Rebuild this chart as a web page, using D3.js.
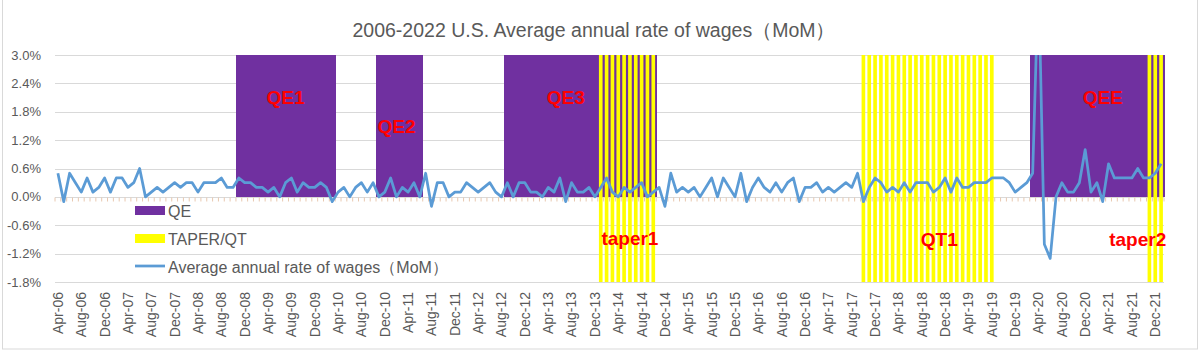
<!DOCTYPE html>
<html>
<head>
<meta charset="utf-8">
<script src="https://cdn.jsdelivr.net/npm/d3@7"></script>
<style>
  html, body { margin: 0; padding: 0; background: #fff; }
  svg { display: block; font-family: "Liberation Sans", Arial, sans-serif; }
</style>
</head>
<body>
<div id="container"></div>
<script>
// monthly wage growth, Apr-06 .. Jan-22 (%)
const wages = [
  0.5, -0.1, 0.5, 0.3, 0.1, 0.4, 0.1, 0.2, 0.4, 0.1, 0.4, 0.4, 0.2, 0.3, 0.6,
  0.0, 0.1, 0.2, 0.1, 0.2, 0.3, 0.2, 0.3, 0.3, 0.1, 0.3, 0.3, 0.3, 0.4, 0.2, 0.2,
  0.4, 0.3, 0.3, 0.2, 0.2, 0.1, 0.2, 0.0, 0.3, 0.4, 0.1, 0.3, 0.2, 0.2, 0.3,
  0.2, -0.1,
  0.1, 0.2, 0.0, 0.2, 0.3, 0.1, 0.3, 0.0, 0.1, 0.4, 0.0, 0.2, 0.1, 0.3, 0.0,
  0.5, -0.2, 0.3, 0.3, 0.0, 0.1, 0.1, 0.3, 0.2, 0.1, 0.2, 0.3, 0.1, 0.0, 0.3,
  0.0, 0.3, 0.3, 0.1, 0.1, 0.0, 0.2, 0.1, 0.4, -0.1, 0.3, 0.1, 0.1, 0.2, 0.0, 0.2,
  0.4, 0.1, 0.0, 0.2, 0.1, 0.2, 0.3, 0.0, 0.1, 0.2, -0.2, 0.5, 0.1, 0.2, 0.1,
  0.2, 0.0, 0.2, 0.4, 0.0, 0.4, 0.2, 0.0, 0.5, -0.1, 0.2, 0.4, 0.2, 0.1, 0.3,
  0.1, 0.3, 0.4, -0.1, 0.2, 0.2, 0.3, 0.1, 0.2, 0.1, 0.2, 0.3, 0.2, 0.5, -0.1,
  0.2, 0.4,
  0.3, 0.1, 0.2, 0.1, 0.3, 0.1, 0.3, 0.3, 0.3, 0.1, 0.2, 0.4, 0.1, 0.4, 0.2,
  0.2, 0.3, 0.3, 0.3, 0.4, 0.4, 0.4, 0.3, 0.1, 0.2, 0.3, 0.5, 4.7, -1.0, -1.3,
  0.0, 0.3, 0.1, 0.1, 0.3, 1.0, 0.1, 0.3, -0.1, 0.7, 0.4, 0.4, 0.4, 0.4, 0.6, 0.4, 0.4, 0.5, 0.7
];

const fmtMonth = d3.timeFormat("%b-%y");
const months = d3.timeMonth.range(new Date(2006, 3, 1), new Date(2022, 1, 1)).map(fmtMonth);

const qePeriods = [["Nov-08", "Mar-10"], ["Nov-10", "Jun-11"], ["Sep-12", "Oct-14"], ["Mar-20", "Jan-22"]];
const taperPeriods = [["Jan-14", "Oct-14"], ["Oct-17", "Aug-19"], ["Nov-21", "Jan-22"]];
const qeRange = [0, 3.0];
const taperRange = [-1.8, 3.0];

const yTicks = [-1.8, -1.2, -0.6, 0.0, 0.6, 1.2, 1.8, 2.4, 3.0];
const labelEvery = 4;

const notes = [
  { text: "QE1", month: "Jul-09", value: 2.1 },
  { text: "QE2", month: "Feb-11", value: 1.5 },
  { text: "QE3", month: "Jul-13", value: 2.1 },
  { text: "QEE", month: "Mar-21", value: 2.1 },
  { text: "taper1", month: "Jun-14", value: -0.87 },
  { text: "QT1", month: "Nov-18", value: -0.89 },
  { text: "taper2", month: "Sep-21", value: -0.89 }
];

const W = 1200, H = 352;
const margin = { top: 55, right: 36, bottom: 70, left: 55 };

const svg = d3.select("#container").append("svg")
    .attr("width", W)
    .attr("height", H);

svg.append("rect")
    .attr("x", 2.5).attr("y", -2)
    .attr("width", 1195).attr("height", 351)
    .attr("fill", "none")
    .attr("stroke", "#d9d9d9");

const x = d3.scaleBand()
    .domain(months)
    .range([margin.left, W - margin.right]);
const xThin = d3.scaleBand()
    .domain(months)
    .range([margin.left, W - margin.right])
    .paddingInner(0.375)
    .paddingOuter(0.1875);
const y = d3.scaleLinear()
    .domain([taperRange[0], taperRange[1]])
    .range([H - margin.bottom, margin.top]);

const bw = x.bandwidth();

function expand(periods) {
    const out = [];
    periods.forEach(p => {
        const a = months.indexOf(p[0]), b = months.indexOf(p[1]);
        for (let i = a; i <= b; i++) out.push(months[i]);
    });
    return out;
}

// title
svg.append("text")
    .attr("x", 594)
    .attr("y", 37)
    .attr("text-anchor", "middle")
    .style("font-size", "19.5px")
    .style("fill", "#595959")
    .text("2006-2022 U.S. Average annual rate of wages（MoM）");

// grid
svg.append("g").selectAll("line")
    .data(yTicks)
  .enter().append("line")
    .attr("x1", margin.left).attr("x2", W - margin.right)
    .attr("y1", d => Math.round(y(d)) + 0.5).attr("y2", d => Math.round(y(d)) + 0.5)
    .attr("stroke", "#d9d9d9");

svg.append("g").selectAll("text")
    .data(yTicks)
  .enter().append("text")
    .attr("x", 41)
    .attr("y", d => y(d))
    .attr("dy", "0.35em")
    .attr("text-anchor", "end")
    .style("font-size", "13px")
    .style("fill", "#595959")
    .text(d => d.toFixed(1) + "%");

// QE bars
svg.append("g")
    .attr("shape-rendering", "crispEdges")
  .selectAll("rect")
    .data(expand(qePeriods))
  .enter().append("rect")
    .attr("x", d => x(d))
    .attr("width", bw + 0.5)
    .attr("y", y(qeRange[1]))
    .attr("height", y(qeRange[0]) - y(qeRange[1]))
    .attr("fill", "#7030a0");

// taper / QT bars
svg.append("g").selectAll("rect")
    .data(expand(taperPeriods))
  .enter().append("rect")
    .attr("x", d => xThin(d))
    .attr("width", xThin.bandwidth())
    .attr("y", y(taperRange[1]))
    .attr("height", y(taperRange[0]) - y(taperRange[1]))
    .attr("fill", "#ffff00");

// category axis ticks on zero line
const y0 = Math.round(y(0)) + 0.5;
svg.append("g").selectAll("line")
    .data(months.concat(["end"]))
  .enter().append("line")
    .attr("x1", (d, i) => margin.left + i * bw)
    .attr("x2", (d, i) => margin.left + i * bw)
    .attr("y1", y0).attr("y2", y0 + 4)
    .attr("stroke", "#e8c8b0");

// x labels
svg.append("g").selectAll("text")
    .data(months.filter((d, i) => i % labelEvery === 0))
  .enter().append("text")
    .attr("transform", d => `translate(${x(d) + bw / 2},292) rotate(-90)`)
    .attr("dy", "0.35em")
    .attr("text-anchor", "end")
    .style("font-size", "14px")
    .style("fill", "#595959")
    .text(d => d);

// line
svg.append("clipPath").attr("id", "plot")
  .append("rect")
    .attr("x", margin.left).attr("y", margin.top)
    .attr("width", W - margin.left - margin.right)
    .attr("height", H - margin.top - margin.bottom);

const line = d3.line()
    .x((d, i) => x(months[i]) + bw / 2)
    .y(d => y(d));

svg.append("path")
    .datum(wages)
    .attr("clip-path", "url(#plot)")
    .attr("d", line)
    .attr("fill", "none")
    .attr("stroke", "#5b9bd5")
    .attr("stroke-width", 2.75)
    .attr("stroke-linejoin", "round");

// legend
const legend = svg.append("g");
legend.append("rect").attr("x", 135).attr("y", 206).attr("width", 30).attr("height", 9).attr("fill", "#7030a0");
legend.append("rect").attr("x", 135).attr("y", 234).attr("width", 30).attr("height", 9).attr("fill", "#ffff00");
legend.append("line").attr("x1", 135).attr("x2", 165).attr("y1", 266).attr("y2", 266)
    .attr("stroke", "#5b9bd5").attr("stroke-width", 2.75);
[["QE", 211], ["TAPER/QT", 239], ["Average annual rate of wages（MoM）", 267]].forEach(l => {
    legend.append("text")
        .attr("x", 168).attr("y", l[1])
        .attr("dy", "0.36em")
        .style("font-size", "16px")
        .style("fill", "#595959")
        .text(l[0]);
});

// period labels
svg.append("g").selectAll("text")
    .data(notes)
  .enter().append("text")
    .attr("x", d => x(d.month) + bw / 2)
    .attr("y", d => y(d.value))
    .attr("dy", "0.36em")
    .attr("text-anchor", "middle")
    .style("font-size", "19px")
    .style("font-weight", "bold")
    .style("fill", "#ff0000")
    .text(d => d.text);
</script>
</body>
</html>
